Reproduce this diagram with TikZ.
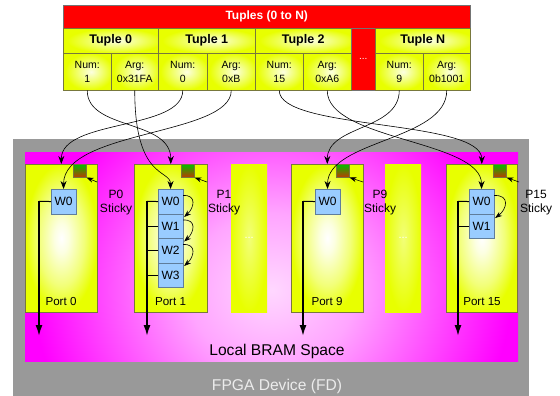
\documentclass[tikz,border=0pt]{standalone}
\usepackage{fontspec}
\setmainfont{Liberation Sans}
\usetikzlibrary{arrows.meta,calc}
\definecolor{yel}{RGB}{232,255,0}
\definecolor{yelW}{RGB}{252,255,225}
\definecolor{yelM}{RGB}{242,255,120}
\definecolor{olivebd}{RGB}{120,120,60}
\definecolor{fgray}{RGB}{153,153,153}
\definecolor{mag}{RGB}{255,0,255}
\definecolor{pinkc}{RGB}{255,215,255}
\definecolor{pinkm}{RGB}{255,165,255}
\definecolor{wblue}{RGB}{153,204,255}
\definecolor{wborder}{RGB}{95,125,155}
\definecolor{stgreen}{RGB}{0,190,0}
\definecolor{stred}{RGB}{190,60,0}
\definecolor{fdtext}{RGB}{236,236,236}
\definecolor{redc}{RGB}{255,0,0}
\pgfdeclareradialshading{portshade}{\pgfpoint{0bp}{0bp}}{color(0bp)=(white); color(5bp)=(yelW); color(16bp)=(yelM); color(25bp)=(yel); color(50bp)=(yel)}
\pgfdeclareradialshading{tupshade}{\pgfpoint{4bp}{0bp}}{color(0bp)=(yelW); color(12bp)=(yelM); color(25bp)=(yel); color(50bp)=(yel)}
\pgfdeclareradialshading{dotshade}{\pgfpoint{0bp}{0bp}}{color(0bp)=(yelM); color(25bp)=(yel); color(50bp)=(yel)}
\pgfdeclareradialshading{magshade}{\pgfpoint{0bp}{0bp}}{color(0bp)=(pinkc); color(8bp)=(pinkm); color(23bp)=(mag); color(50bp)=(mag)}
\tikzset{
  cellY/.style={draw=olivebd, line width=0.5pt, shade, shading=tupshade, inner sep=0pt, anchor=north west, align=center, font=\fontsize{10.5}{14}\selectfont},
  cellH/.style={cellY, minimum height=25pt, font=\bfseries\fontsize{12.5}{14}\selectfont},
  cellV/.style={cellY, minimum height=37pt},
  redcell/.style={draw=black!55, line width=0.5pt, fill=redc, inner sep=0pt, anchor=north west, text=white, font=\bfseries\fontsize{12}{14}\selectfont},
  portbox/.style={draw=olivebd, line width=0.6pt, shade, shading=portshade, inner sep=0pt, anchor=north west, minimum width=72pt, minimum height=148pt},
  dotcol/.style={shade, shading=dotshade, inner sep=0pt, anchor=north west, minimum width=36pt, minimum height=148pt, text=white, font=\fontsize{11}{13}\selectfont},
  wbox/.style={draw=wborder, line width=0.6pt, fill=wblue, inner sep=0pt, anchor=north west, minimum width=24.5pt, minimum height=24.5pt, font=\fontsize{12}{14}\selectfont},
  sticky/.style={draw=olivebd, line width=0.5pt, top color=stgreen, bottom color=stred, inner sep=0pt, anchor=north west, minimum size=13pt},
  stlab/.style={inner sep=0pt, align=center, font=\fontsize{12}{14}\selectfont},
  portlab/.style={inner sep=0pt, font=\fontsize{11.6}{14}\selectfont},
  biglab/.style={inner sep=0pt, font=\fontsize{15.6}{18}\selectfont},
  conn/.style={draw=black, line width=0.6pt, -{Stealth[length=8pt,width=6pt]}},
  starr/.style={draw=black, line width=0.6pt, -{Stealth[length=7pt,width=5pt]}},
  bus/.style={draw=black, line width=1.6pt, -{Latex[length=11pt,width=7pt]}},
  stub/.style={draw=black, line width=1pt},
  warr/.style={draw=black, line width=0.6pt, -{Stealth[length=7pt,width=5pt]}}
}
\begin{document}
\begin{tikzpicture}[x=1pt,y=-1pt]
\useasboundingbox (0,0) rectangle (560,396);
% FPGA device
\fill[fgray] (13,139) rectangle (529,396);
% Local BRAM space
\begin{scope}
  \clip (25,152) rectangle (518,361);
  \fill[mag] (25,152) rectangle (518,361);
  \shade[shading=magshade] (12,50) rectangle (532,530);
\end{scope}
% dots columns
\node[dotcol] (d1) at (231,164) {...};
\node[dotcol] (d2) at (385,164) {...};
% ports
\node[portbox] (p0) at (25,164) {};
\node[portbox, minimum width=73pt] (p1) at (134,164) {};
\node[portbox] (p9) at (291,164) {};
\node[portbox, minimum width=71pt] (p15) at (446,164) {};
\node[portlab] (p0l) at (61,302) {Port 0};
\node[portlab] (p1l) at (170.5,302) {Port 1};
\node[portlab] (p9l) at (327,302) {Port 9};
\node[portlab] (p15l) at (482,302) {Port 15};
% sticky squares
\node[sticky] (s0) at (73,164) {};
\node[sticky] (s1) at (181,164) {};
\node[sticky] (s9) at (336,164) {};
\node[sticky] (s15) at (493,164) {};
\node[stlab] (l0) at (116,203) {P0\\Sticky};
\node[stlab] (l1) at (224,203) {P1\\Sticky};
\node[stlab] (l9) at (380,203) {P9\\Sticky};
\node[stlab] (l15) at (536,203) {P15\\Sticky};
\coordinate (a0) at (97,182);
\coordinate (a1) at (207,182);
\coordinate (a9) at (363,182);
\coordinate (a15) at (519,182);
\draw[starr] (a0) -- (s0.south east);
\draw[starr] (a1) -- (s1.south east);
\draw[starr] (a9) -- (s9.south east);
\draw[starr] (a15) -- (s15.south east);
% W boxes
\node[wbox] (p0w0) at (51,189) {W0};
\node[wbox] (p1w0) at (158,189) {W0};
\node[wbox] (p1w1) at (158,213.5) {W1};
\node[wbox] (p1w2) at (158,238) {W2};
\node[wbox] (p1w3) at (158,262.5) {W3};
\node[wbox] (p9w0) at (315,189) {W0};
\node[wbox] (p15w0) at (469,189) {W0};
\node[wbox] (p15w1) at (469,213.5) {W1};
% buses
\coordinate (b0t) at (39,201.25);   \coordinate (b0e) at (39,336);
\coordinate (b1t) at (147,201.25);  \coordinate (b1e) at (147,336);
\coordinate (b9t) at (303,201.25);  \coordinate (b9e) at (303,336);
\coordinate (b15t) at (458,201.25); \coordinate (b15e) at (458,336);
\draw[stub] (b0t) -- (p0w0.west);
\draw[stub] (b1t) -- (p1w0.west);
\draw[stub] (p1w1.west) -- (p1w1.west -| b1t);
\draw[stub] (p1w2.west) -- (p1w2.west -| b1t);
\draw[stub] (p1w3.west) -- (p1w3.west -| b1t);
\draw[stub] (b9t) -- (p9w0.west);
\draw[stub] (b15t) -- (p15w0.west);
\draw[stub] (p15w1.west) -- (p15w1.west -| b15t);
\draw[bus] ([yshift=0.5pt]b0t) -- (b0e);
\draw[bus] ([yshift=0.5pt]b1t) -- (b1e);
\draw[bus] ([yshift=0.5pt]b9t) -- (b9e);
\draw[bus] ([yshift=0.5pt]b15t) -- (b15e);
% W chaining arrows
\draw[warr] ($(p1w0.east)+(0,-6)$) .. controls +(14,-1) and +(10,-9) .. ($(p1w1.east)+(1,-9)$);
\draw[warr] ($(p1w1.east)+(0,-6)$) .. controls +(14,-1) and +(10,-9) .. ($(p1w2.east)+(1,-9)$);
\draw[warr] ($(p1w2.east)+(0,-6)$) .. controls +(14,-1) and +(10,-9) .. ($(p1w3.east)+(1,-9)$);
\draw[warr] ($(p15w0.east)+(0,-6)$) .. controls +(16,-1) and +(12,-9) .. ($(p15w1.east)+(1,-8)$);
% labels of the regions
\node[biglab] (bram) at (277,351) {Local BRAM Space};
\node[biglab, text=fdtext] (fd) at (277,386) {FPGA Device (FD)};
% tuples table
\node[redcell, minimum width=407pt, minimum height=23pt] (hdr) at (63,5) {Tuples (0 to N)};
\node[cellH, minimum width=95pt] (t0) at (63,28) {Tuple 0};
\node[cellH, minimum width=97pt] (t1) at (158,28) {Tuple 1};
\node[cellH, minimum width=96pt] (t2) at (255,28) {Tuple 2};
\node[redcell, minimum width=24pt, minimum height=62pt, font=\fontsize{10}{12}\selectfont] (tdots) at (351,28) {...};
\node[cellH, minimum width=95pt] (tN) at (375,28) {Tuple N};
\node[cellV, minimum width=48pt] (t0n) at (63,53) {Num:\\1};
\node[cellV, minimum width=47pt] (t0a) at (111,53) {Arg:\\0x31FA};
\node[cellV, minimum width=49pt] (t1n) at (158,53) {Num:\\0};
\node[cellV, minimum width=48pt] (t1a) at (207,53) {Arg:\\0xB};
\node[cellV, minimum width=48pt] (t2n) at (255,53) {Num:\\15};
\node[cellV, minimum width=48pt] (t2a) at (303,53) {Arg:\\0xA6};
\node[cellV, minimum width=48pt] (tnn) at (375,53) {Num:\\9};
\node[cellV, minimum width=47pt] (tna) at (423,53) {Arg:\\0b1001};
% connectors
\draw[conn] (t0n.south) .. controls +(0,40) and +(0,-45) .. (p1.north);
\draw[conn] (t0a.south) .. controls +(0,90) and +(0,-20) .. (p1w0.north);
\draw[conn] (t1n.south) .. controls +(0,40) and +(0,-45) .. (p0.north);
\draw[conn] (t1a.south) .. controls +(0,45) and +(0,-59) .. (p0w0.north);
\draw[conn] (t2n.south) .. controls +(0,40) and +(0,-45) .. (p15.north);
\draw[conn] (t2a.south) .. controls +(0,50) and +(0,-49) .. (p15w0.north);
\draw[conn] (tnn.south) .. controls +(0,40) and +(0,-39) .. (p9.north);
\draw[conn] (tna.south) .. controls +(0,50) and +(0,-49) .. (p9w0.north);
\end{tikzpicture}
\end{document}
